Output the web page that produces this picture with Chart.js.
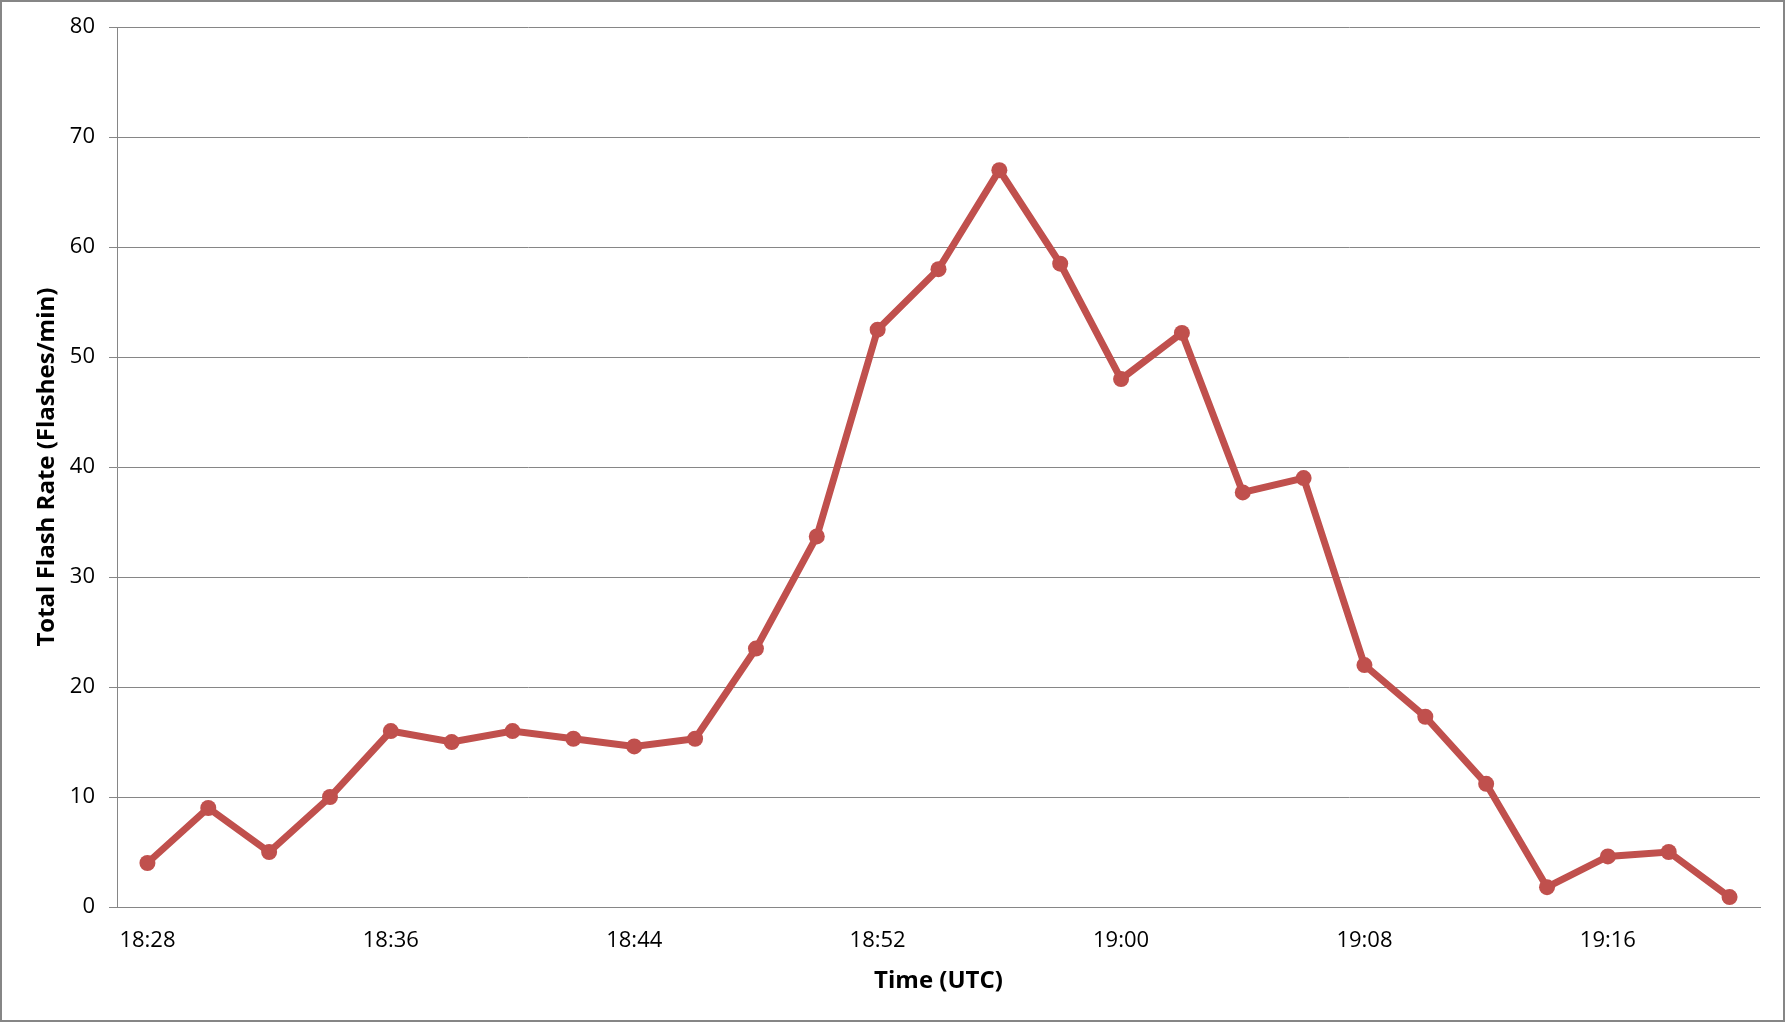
<!DOCTYPE html>
<html>
<head>
<meta charset="utf-8">
<script src="https://cdn.jsdelivr.net/npm/chart.js@4/dist/chart.umd.min.js"></script>
<style>
  html, body { margin: 0; padding: 0; background: #fff; }
  #wrap { position: relative; width: 1785px; height: 1022px; }
</style>
</head>
<body>
<div id="wrap"><canvas id="c" width="1785" height="1022"></canvas></div>
<script>
const times = ["18:28","18:30","18:32","18:34","18:36","18:38","18:40","18:42","18:44","18:46",
  "18:48","18:50","18:52","18:54","18:56","18:58","19:00","19:02","19:04","19:06",
  "19:08","19:10","19:12","19:14","19:16","19:18","19:20"];
const flashRate = [4, 9, 5, 10, 16, 15, 16, 15.3, 14.6, 15.3,
  23.5, 33.7, 52.5, 58, 67, 58.5, 48, 52.2, 37.7, 39,
  22, 17.3, 11.2, 1.8, 4.6, 5, 0.9];
const yTicks = [0, 10, 20, 30, 40, 50, 60, 70, 80];

const GRID = '#868686';
const RED = '#C0504D';
const FONT = '"Open Sans", "Noto Sans", sans-serif';

const borderPlugin = {
  id: 'outerBorder',
  afterDraw(chart) {
    const ctx = chart.ctx;
    ctx.save();
    ctx.strokeStyle = '#868686';
    ctx.lineWidth = 2;
    ctx.strokeRect(1, 1, chart.width - 2, chart.height - 2);
    ctx.restore();
  }
};

new Chart(document.getElementById('c'), {
  type: 'line',
  data: {
    labels: times,
    datasets: [{
      label: 'Total Flash Rate',
      data: flashRate,
      borderColor: RED,
      backgroundColor: RED,
      borderWidth: 7,
      pointRadius: 8,
      pointHoverRadius: 8,
      pointBackgroundColor: RED,
      pointBorderColor: RED,
      pointBorderWidth: 0,
      tension: 0,
      fill: false
    }]
  },
  options: {
    responsive: false,
    animation: false,
    devicePixelRatio: 1,
    layout: { padding: { top: 25, right: 25, left: 0, bottom: 0 } },
    plugins: {
      legend: { display: false },
      tooltip: { enabled: false }
    },
    scales: {
      x: {
        offset: true,
        grid: { display: false, drawTicks: false },
        border: { display: true, color: GRID, width: 1 },
        ticks: {
          autoSkip: false,
          maxRotation: 0,
          minRotation: 0,
          padding: 21,
          color: '#000',
          font: { family: FONT, size: 22 },
          callback: (v, i) => (i % 4 === 0 ? times[i] : '')
        },
        title: {
          display: true,
          text: 'Time (UTC)',
          color: '#000',
          font: { family: FONT, size: 24, weight: 'bold' },
          padding: { top: 0, bottom: 26 }
        },
        afterFit: s => { s.height = 115; }
      },
      y: {
        min: 0,
        max: 80,
        afterBuildTicks: s => { s.ticks = yTicks.map(v => ({ value: v })); },
        grid: {
          color: GRID,
          lineWidth: 1,
          drawTicks: true,
          tickLength: 8,
          tickColor: GRID
        },
        border: { display: true, color: GRID, width: 1 },
        ticks: {
          padding: 14,
          color: '#000',
          font: { family: FONT, size: 22 }
        },
        title: {
          display: true,
          text: 'Total Flash Rate (Flashes/min)',
          color: '#000',
          font: { family: FONT, size: 24, weight: 'bold' },
          padding: { top: 33, bottom: 0 }
        },
        afterFit: s => { s.width = 117; }
      }
    }
  },
  plugins: [borderPlugin]
});
</script>
</body>
</html>
